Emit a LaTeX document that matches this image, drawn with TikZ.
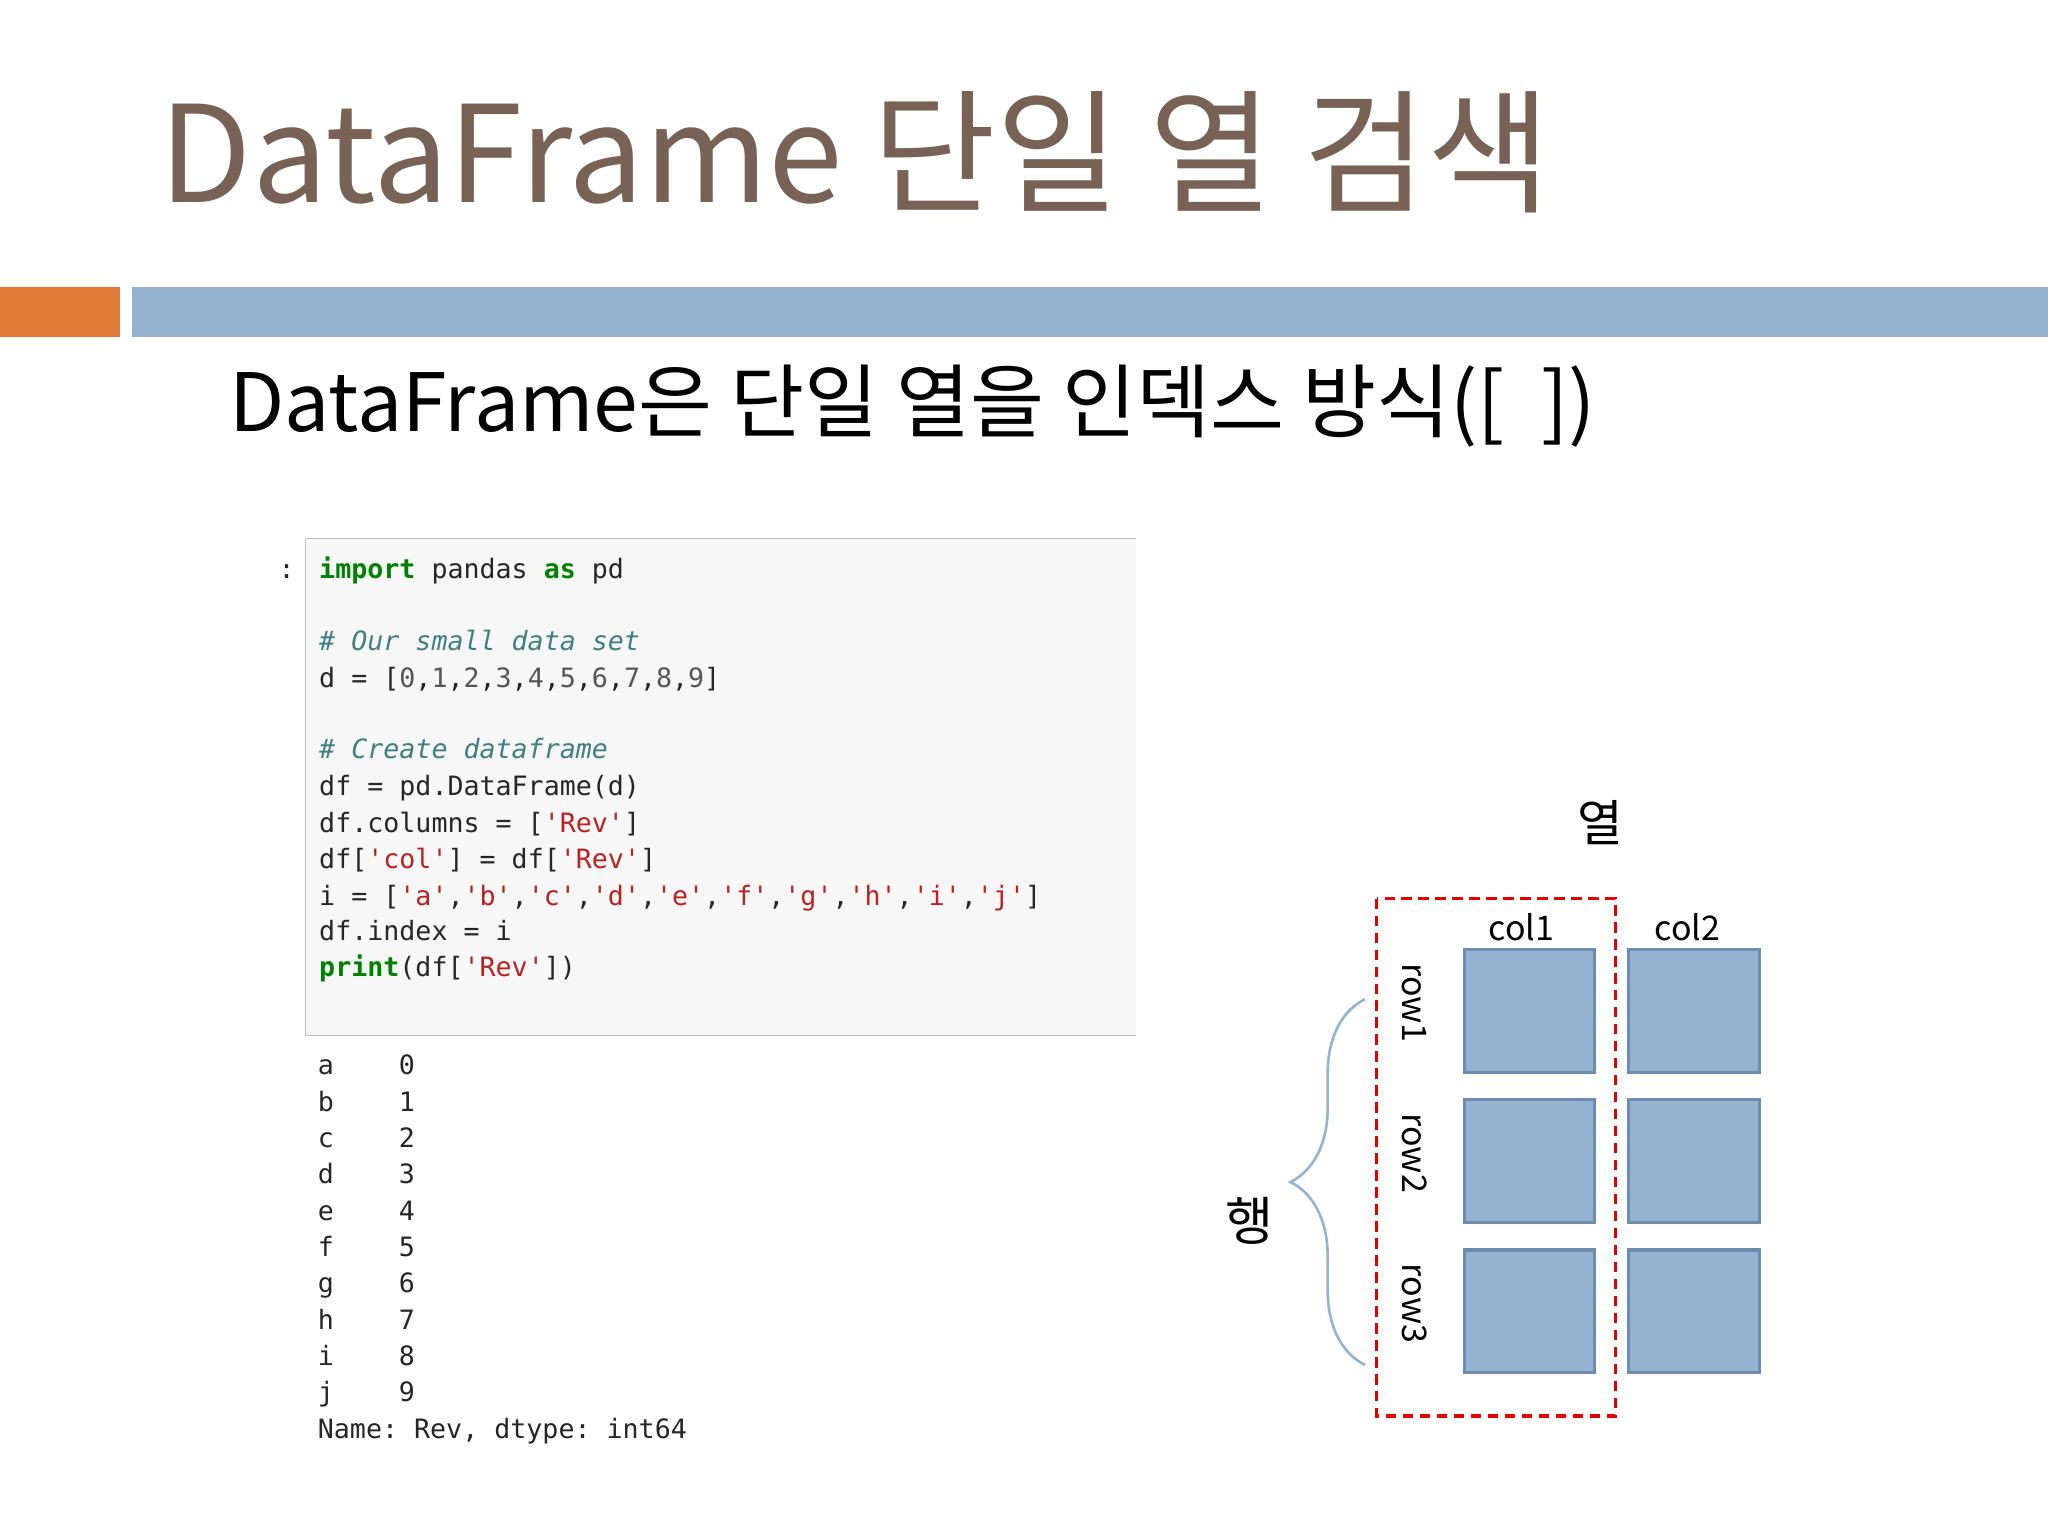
\documentclass[tikz,border=0pt]{standalone}
\usepackage{fontspec}
\setmainfont{Noto Sans CJK KR}
\newfontfamily\kr{Noto Sans CJK KR}
\setmonofont{DejaVu Sans Mono}
\usetikzlibrary{decorations.pathreplacing}
\definecolor{titlec}{HTML}{776255}
\definecolor{orangec}{HTML}{E07B39}
\definecolor{bluec}{HTML}{95B3D0}
\definecolor{boxedge}{HTML}{6E8DAE}
\definecolor{kwc}{HTML}{008000}
\definecolor{cmc}{HTML}{408080}
\definecolor{strc}{HTML}{BA2121}
\definecolor{numc}{HTML}{555555}
\newcommand{\kw}[1]{\textcolor{kwc}{\bfseries #1}}
\newcommand{\cm}[1]{\textcolor{cmc}{\itshape #1}}
\newcommand{\st}[1]{\textcolor{strc}{#1}}
\begin{document}
\begin{tikzpicture}[x=0.5pt,y=-0.5pt,
  code/.style={anchor=base west,inner sep=0pt,font=\ttfamily\fontsize{10.2}{12}\selectfont,text=black!85},
  cell/.style={draw=boxedge,line width=1.2pt,fill=bluec,minimum width=50pt,minimum height=47pt,inner sep=0pt},
  lbl/.style={inner sep=0pt,font=\fontsize{13}{15}\selectfont}]
\useasboundingbox (0,0) rectangle (1568,1176);
\fill[white] (0,0) rectangle (1568,1176);
\node[anchor=base west,inner sep=0pt,text=titlec,font=\fontsize{51.4}{60}\selectfont] (title) at (122,155) {DataFrame 단일 열 검색};
\fill[orangec] (0,220) rectangle (92,258);
\fill[bluec] (101,220) rectangle (1568,258);
\node[anchor=base west,inner sep=0pt,font=\fontsize{30.8}{38}\selectfont] (sub) at (175,330) {DataFrame은 단일 열을 인덱스 방식([\ \ ])};
% code box
\draw[black!25,fill=black!3] (870,412) -- (234,412) -- (234,793) -- (870,793);
\node[code] (colon) at (213,443) {:};
\node[code] (l1) at (244,443) {\kw{import} pandas \kw{as} pd};
\node[code] (l2) at (244,498) {\cm{\# Our small data set}};
\node[code] (l3) at (244,526) {d = [\textcolor{numc}{0},\textcolor{numc}{1},\textcolor{numc}{2},\textcolor{numc}{3},\textcolor{numc}{4},\textcolor{numc}{5},\textcolor{numc}{6},\textcolor{numc}{7},\textcolor{numc}{8},\textcolor{numc}{9}]};
\node[code] (l4) at (244,581) {\cm{\# Create dataframe}};
\node[code] (l5) at (244,609) {df = pd.DataFrame(d)};
\node[code] (l6) at (244,637) {df.columns = [\st{'Rev'}]};
\node[code] (l7) at (244,665) {df[\st{'col'}] = df[\st{'Rev'}]};
\node[code] (l8) at (244,693) {i = [\st{'a'},\st{'b'},\st{'c'},\st{'d'},\st{'e'},\st{'f'},\st{'g'},\st{'h'},\st{'i'},\st{'j'}]};
\node[code] (l9) at (244,720) {df.index = i};
\node[code] (l10) at (244,748) {\kw{print}(df[\st{'Rev'}])};
% output
\foreach \c [count=\k from 0] in {a,b,c,d,e,f,g,h,i,j}{
  \node[code] (o\k) at (243,{823+27.8*\k}) {\c};
  \node[code] (v\k) at (305,{823+27.8*\k}) {\k};
}
\node[code] (name) at (243,1101) {Name: Rev, dtype: int64};
% diagram
\node[lbl,font=\fontsize{19}{22}\selectfont] (yeol) at (1225,630) {열};
\node[lbl] (c1) at (1165,710) {col1};
\node[lbl] (c2) at (1292,710) {col2};
\foreach \r/\y in {1/774,2/889,3/1004}{
  \node[cell] (a\r) at (1171,\y) {};
  \node[cell] (b\r) at (1297,\y) {};
  \node[lbl,rotate=-90] (r\r) at (1083,{\y-6}) {row\r};
}
\draw[red!90!black,dashed,line width=1.3pt,dash pattern=on 4pt off 2.5pt] (1054,688) rectangle (1237,1084);
\coordinate (bt) at (1045,1045);
\coordinate (tp) at (1045,765);
\draw[bluec,line width=1pt,decorate,decoration={brace,amplitude=28.5pt}] (bt) -- (tp);
\node[lbl,font=\fontsize{20}{24}\selectfont] (haeng) at (957,935) {행};
\end{tikzpicture}
\end{document}
